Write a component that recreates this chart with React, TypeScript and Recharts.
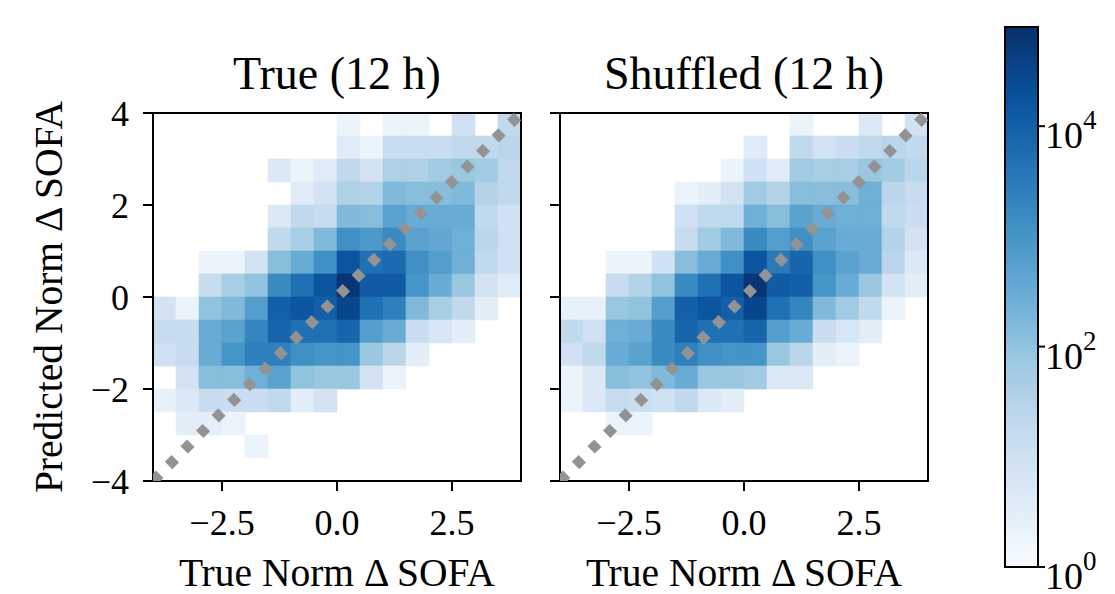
import React from 'react';
import { ScatterChart, Scatter, XAxis, YAxis, ReferenceArea } from 'recharts';

const FONT = '"Liberation Serif", "Times New Roman", serif';

// bin edges of the 2D histogram (both axes)
const binEdges = [-4, -3.5, -3, -2.5, -2, -1.5, -1, -0.5, 0, 0.5, 1, 1.5, 2, 2.5, 3, 3.5, 4];
const xTicks = [-2.5, 0, 2.5];
const yTicks = [-4, -2, 0, 2, 4];
const cbTicks = [1, 100, 10000];
const LOG_MAX = 4.9;

const _ = null;
// log10(count) per cell, rows from top (y 3.5..4) to bottom (y -4..-3.5)
const trueLogCounts: (number | null)[][] = [
  [_, _, _, _, _, _, _, _, 0.3, _, 0.3, 0.3, _, 1.0, _, 1.3],
  [_, _, _, _, _, _, _, _, 0.6, 0.3, 1.1, 1.1, 1.1, 1.3, 1.3, 1.4],
  [_, _, _, _, _, 0.7, 0.3, 0.6, 1.3, 0.9, 1.6, 1.6, 1.8, 1.9, 1.8, 1.3],
  [_, _, _, _, _, _, 0.6, 0.9, 1.6, 1.5, 2.2, 2.1, 2.1, 2.2, 1.5, 1.3],
  [_, _, _, _, _, 0.7, 1.3, 1.2, 2.2, 2.1, 2.7, 2.5, 2.5, 2.5, 1.3, 1.0],
  [_, _, _, _, _, 1.3, 1.7, 2.2, 3.1, 2.9, 3.2, 2.7, 2.6, 2.4, 1.4, 1.0],
  [_, _, 0.3, 0.3, 0.9, 2.1, 2.5, 3.1, 4.2, 3.7, 3.8, 3.1, 2.8, 2.4, 1.3, 1.0],
  [_, _, 1.2, 1.7, 2.0, 3.2, 3.7, 4.2, 4.8, 4.1, 4.1, 3.0, 2.5, 1.9, 0.9, 0.6],
  [0.9, 0.3, 2.0, 2.2, 2.8, 4.0, 4.2, 4.0, 4.5, 3.7, 3.4, 2.2, 1.7, 1.3, 0.5, _],
  [1.2, 1.2, 2.5, 2.7, 3.3, 3.9, 3.7, 3.7, 3.9, 2.8, 2.5, 1.1, 0.8, 0.5, _, _],
  [1.0, 1.2, 2.5, 3.0, 3.4, 3.4, 3.1, 3.0, 3.0, 1.9, 1.4, 0.5, _, _, _, _],
  [_, 0.9, 2.1, 2.1, 2.4, 2.7, 2.0, 1.9, 1.9, 0.9, 0.3, _, _, _, _, _],
  [0.4, 0.7, 1.2, 1.1, 1.1, 1.3, 0.5, 0.9, _, _, _, _, _, _, _, _],
  [_, 0.5, 0.5, 0.3, _, _, _, _, _, _, _, _, _, _, _, _],
  [_, _, _, _, 0.3, _, _, _, _, _, _, _, _, _, _, _],
  [_, _, _, _, _, _, _, _, _, _, _, _, _, _, _, _],
];

const shuffledLogCounts: (number | null)[][] = [
  [_, _, _, _, _, _, _, _, _, _, 0.3, _, _, 0.7, _, 0.9],
  [_, _, _, _, _, _, _, _, 0.6, _, 1.3, 0.9, 1.1, 1.3, 1.4, 1.3],
  [_, _, _, _, _, _, _, 0.3, 1.0, 0.6, 1.8, 1.7, 1.7, 1.9, 1.8, 1.4],
  [_, _, _, _, _, 0.3, 0.5, 0.9, 1.8, 1.5, 2.1, 2.1, 2.1, 2.4, 1.4, 1.2],
  [_, _, _, _, _, 1.0, 1.3, 1.3, 2.4, 2.1, 2.7, 2.5, 2.4, 2.4, 1.3, 1.1],
  [_, _, _, _, _, 1.2, 1.8, 2.2, 3.2, 2.8, 3.1, 2.7, 2.5, 2.5, 1.5, 0.9],
  [_, _, 0.3, 0.3, 1.0, 2.1, 2.5, 3.1, 4.2, 3.5, 3.9, 3.1, 2.7, 2.5, 1.4, 0.7],
  [_, _, 1.2, 1.5, 2.0, 3.2, 3.7, 4.2, 4.8, 4.1, 4.0, 3.0, 2.5, 1.9, 0.9, 0.5],
  [0.4, 0.4, 1.9, 2.0, 2.8, 4.0, 4.2, 4.0, 4.5, 3.7, 3.3, 2.2, 1.8, 1.3, 0.3, _],
  [1.3, 1.0, 2.4, 2.5, 3.2, 3.9, 3.7, 3.7, 3.9, 2.8, 2.5, 1.1, 0.8, 0.5, _, _],
  [1.0, 1.3, 2.5, 2.7, 3.2, 3.4, 3.1, 3.0, 3.0, 1.9, 1.4, 0.5, 0.3, _, _, _],
  [0.3, 0.7, 2.1, 2.0, 2.2, 2.5, 1.9, 1.9, 1.8, 0.7, 0.7, _, _, _, _, _],
  [0.3, 0.7, 1.2, 1.1, 1.0, 1.3, 0.7, 0.5, _, _, _, _, _, _, _, _],
  [_, _, 0.3, 0.3, _, _, _, _, _, _, _, _, _, _, _, _],
  [_, _, _, _, _, _, _, _, _, _, _, _, _, _, _, _],
  [_, _, _, _, _, _, _, _, _, _, _, _, _, _, _, _],
];

const diagonal = [{ x: -4, y: -4 }, { x: 4, y: 4 }];

// matplotlib "Blues"
const bluesStops = ['#f7fbff', '#deebf7', '#c6dbef', '#9ecae1', '#6baed6', '#4292c6', '#2171b5', '#08519c', '#08306b'];

const hexToRgb = (h: string) => [1, 3, 5].map((i) => parseInt(h.slice(i, i + 2), 16));

const blues = (v: number) => {
  const t = Math.min(1, Math.max(0, v / LOG_MAX)) * 8;
  const i = Math.min(7, Math.floor(t));
  const f = t - i;
  const a = hexToRgb(bluesStops[i]);
  const b = hexToRgb(bluesStops[i + 1]);
  const c = a.map((av, k) => Math.round(av + (b[k] - av) * f));
  return `rgb(${c[0]},${c[1]},${c[2]})`;
};

const fmtTick = (v: number, digits: number) => {
  const s = Math.abs(v).toFixed(digits);
  return v < 0 ? '\u2212' + s : s;
};

const axisStyle = { stroke: '#000', strokeWidth: 2 };
const tickStyle = { fill: '#000', fontSize: 36, fontFamily: FONT };

const HeatPanel = ({ grid, showLabels }: { grid: (number | null)[][]; showLabels: boolean }) => {
  const cells: React.ReactNode[] = [];
  grid.forEach((row, r) =>
    row.forEach((v, c) => {
      if (v === null) return;
      const col = blues(v);
      cells.push(
        <ReferenceArea
          key={`${r}-${c}`}
          x1={binEdges[c]}
          x2={binEdges[c + 1]}
          y1={binEdges[15 - r]}
          y2={binEdges[16 - r]}
          fill={col}
          fillOpacity={1}
          stroke={col}
          strokeWidth={0.6}
          ifOverflow="visible"
        />
      );
    })
  );
  return (
    <ScatterChart
      width={showLabels ? 540 : 400}
      height={594}
      margin={{ top: 113, right: showLabels ? 19 : 12, left: 0, bottom: 0 }}
    >
      <XAxis
        type="number"
        dataKey="x"
        domain={[-4, 4]}
        ticks={xTicks}
        tickFormatter={(v: number) => fmtTick(v, 1)}
        height={113}
        tickSize={10}
        tickMargin={18}
        axisLine={axisStyle}
        tickLine={axisStyle}
        tick={tickStyle}
        allowDataOverflow
        label={{ value: 'True Norm \u0394 SOFA', position: 'insideBottom', offset: 8, style: { fill: '#000', fontSize: 39.5, fontFamily: FONT } }}
      />
      <YAxis
        type="number"
        dataKey="y"
        domain={[-4, 4]}
        ticks={yTicks}
        tickFormatter={(v: number) => (showLabels ? fmtTick(v, 0) : '')}
        width={showLabels ? 153 : 20}
        tickSize={10}
        tickMargin={14}
        axisLine={axisStyle}
        tickLine={axisStyle}
        tick={tickStyle}
        allowDataOverflow
        label={
          showLabels
            ? { value: 'Predicted Norm \u0394 SOFA', angle: -90, position: 'insideLeft', offset: 48, style: { fill: '#000', fontSize: 39.5, fontFamily: FONT, textAnchor: 'middle' } }
            : undefined
        }
      />
      {cells}
      <ReferenceArea x1={-4} x2={4} y1={-4} y2={4} fill="none" fillOpacity={0} stroke="#000" strokeWidth={2} ifOverflow="visible" />
      <Scatter
        data={diagonal}
        isAnimationActive={false}
        fill="#939393"
        line={{ stroke: '#939393', strokeWidth: 10.5, strokeDasharray: '9.5 12.5' }}
        lineType="joint"
        shape={() => <g />}
      />
    </ScatterChart>
  );
};

const ColorbarTick = (props: any) => {
  const { x, y, payload } = props;
  const exp = Math.round(Math.log10(payload.value));
  return (
    <text x={x} y={y} dy={22} fill="#000" fontSize={38} fontFamily={FONT} textAnchor="start">
      10
      <tspan fontSize={27} dy={-19}>{exp}</tspan>
    </text>
  );
};

const Colorbar = () => (
  <ScatterChart width={175} height={594} margin={{ top: 27, right: 0, left: 65, bottom: 27 }}>
    <defs>
      <linearGradient id="cbBlues" x1="0" y1="1" x2="0" y2="0">
        {bluesStops.map((c, i) => (
          <stop key={c} offset={`${(i / 8) * 100}%`} stopColor={c} />
        ))}
      </linearGradient>
    </defs>
    <XAxis type="number" dataKey="x" domain={[0, 1]} hide height={0} />
    <YAxis
      type="number"
      dataKey="c"
      orientation="right"
      scale="log"
      domain={[1, Math.pow(10, LOG_MAX)]}
      ticks={cbTicks}
      width={77}
      tickSize={7}
      tickMargin={0}
      axisLine={false}
      tickLine={axisStyle}
      tick={<ColorbarTick />}
      allowDataOverflow
    />
    <ReferenceArea x1={0} x2={1} y1={1} y2={Math.pow(10, LOG_MAX)} fill="url(#cbBlues)" fillOpacity={1} stroke="#000" strokeWidth={2} ifOverflow="visible" />
    <Scatter data={cbTicks.map((c) => ({ x: 0.5, c }))} isAnimationActive={false} shape={() => <g />} />
  </ScatterChart>
);

const titleStyle: React.CSSProperties = {
  position: 'absolute',
  top: 49,
  width: 368,
  height: 50,
  lineHeight: '50px',
  textAlign: 'center',
  fontSize: 46,
  fontFamily: FONT,
  color: '#000',
};

export default function App() {
  return (
    <div style={{ position: 'absolute', left: 0, top: 0, width: 1115, height: 594, background: '#fff', overflow: 'hidden' }}>
      <div style={{ position: 'absolute', left: 0, top: 0 }}>
        <HeatPanel grid={trueLogCounts} showLabels />
      </div>
      <div style={{ position: 'absolute', left: 540, top: 0 }}>
        <HeatPanel grid={shuffledLogCounts} showLabels={false} />
      </div>
      <div style={{ position: 'absolute', left: 940, top: 0 }}>
        <Colorbar />
      </div>
      <div style={{ ...titleStyle, left: 153 }}>True (12 h)</div>
      <div style={{ ...titleStyle, left: 560 }}>Shuffled (12 h)</div>
    </div>
  );
}
